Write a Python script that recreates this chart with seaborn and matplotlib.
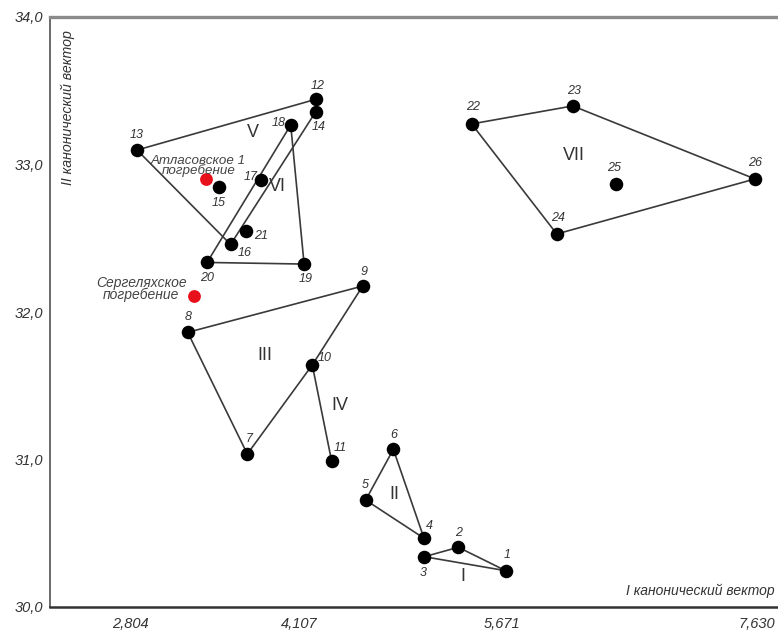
import matplotlib
matplotlib.use("Agg")
import matplotlib.pyplot as plt
import seaborn as sns
import pandas as pd

# Canonical discriminant scores of the samples (I and II canonical vectors)
point_ids = list(range(1, 27))
vec1 = [5.696, 5.331, 5.070, 5.067, 4.618, 4.831, 3.707, 3.248, 4.595, 4.207,
        4.355, 4.234, 2.858, 4.234, 3.489, 3.578, 3.810, 4.041, 4.144, 3.397,
        3.697, 5.434, 6.212, 6.089, 6.543, 7.615]
vec2 = [30.246, 30.405, 30.341, 30.466, 30.725, 31.069, 31.037, 31.862, 32.176, 31.641,
        30.993, 33.442, 33.098, 33.358, 32.847, 32.458, 32.895, 33.268, 32.325, 32.336,
        32.551, 33.275, 33.397, 32.529, 32.868, 32.902]

# Burials shown in red
burial_names = ["Атласовское 1\nпогребение", "Сергеляхское\nпогребение"]
burial_vec1 = [3.389, 3.297]
burial_vec2 = [32.902, 32.108]

# Group outlines, as sequences of point numbers
group_names = ["I", "II", "III", "IV", "V", "VI", "VII"]
group_paths = [
    [3, 2, 1, 3],
    [5, 6, 4, 5],
    [8, 9, 10, 7, 8],
    [10, 11],
    [13, 12, 14, 16, 13],
    [20, 18, 19, 20],
    [22, 23, 26, 24, 22],
]

x_ticks = [2.804, 4.107, 5.671, 7.630]
x_tick_labels = ["2,804", "4,107", "5,671", "7,630"]
y_ticks = [30.0, 31.0, 32.0, 33.0, 34.0]
y_tick_labels = ["30,0", "31,0", "32,0", "33,0", "34,0"]

# Offsets (in points) of the number labels relative to their dots
label_offsets = {
    1: (1, 11), 2: (0, 10), 3: (-1, -12), 4: (4, 9), 5: (0, 11), 6: (0, 10),
    7: (1, 11), 8: (0, 11), 9: (1, 10), 10: (9, 5), 11: (6, 9), 12: (1, 9.5),
    13: (0, 11), 14: (2, -11), 15: (0, -11.5), 16: (10, -6.5), 17: (-7, 2.5),
    18: (-9, 1.5), 19: (1, -11), 20: (0, -11), 21: (11, -3.5), 22: (1, 12),
    23: (1, 11), 24: (1, 11.5), 25: (-1.5, 11.5), 26: (0, 11.5),
}
group_label_pos = {
    "I": (5.365, 30.205), "II": (4.836, 30.766), "III": (3.843, 31.708),
    "IV": (4.421, 31.369), "V": (3.751, 33.214), "VI": (3.936, 32.854),
    "VII": (6.222, 33.064),
}
burial_label_pos = [(3.330, 32.992), (2.889, 32.156)]
burial_label_size = [9.6, 10]
burial_label_spacing = [0.74, 0.85]

sns.set_theme(style="white")
plt.rcParams["font.family"] = ["Liberation Sans", "DejaVu Sans"]

text_col = "#333333"

fig = plt.figure(figsize=(7.78, 6.32), dpi=100)
ax = fig.add_axes([50 / 778, 25 / 632, 728 / 778, 590 / 632])

pts = pd.DataFrame({"id": point_ids, "v1": vec1, "v2": vec2})
coords = {i: (a, b) for i, a, b in zip(point_ids, vec1, vec2)}

# Group outlines
for name, path in zip(group_names, group_paths):
    seg = pd.DataFrame({"v1": [coords[p][0] for p in path],
                        "v2": [coords[p][1] for p in path]})
    sns.lineplot(data=seg, x="v1", y="v2", sort=False, estimator=None,
                 color="#3a3a3a", linewidth=1.2, ax=ax, zorder=2)

# Sample points
sns.scatterplot(data=pts, x="v1", y="v2", s=95, color="black",
                edgecolor="black", linewidth=0, ax=ax, zorder=3)

# Reference burials
burials = pd.DataFrame({"v1": burial_vec1, "v2": burial_vec2})
sns.scatterplot(data=burials, x="v1", y="v2", s=85, color="#e8101a",
                edgecolor="#e8101a", linewidth=0, ax=ax, zorder=3)

for i, a, b in zip(point_ids, vec1, vec2):
    dx, dy = label_offsets[i]
    ax.annotate(str(i), (a, b), xytext=(dx, dy), textcoords="offset points",
                ha="center", va="center", fontsize=9, style="italic",
                color=text_col, zorder=4)

for name in group_names:
    gx, gy = group_label_pos[name]
    ax.text(gx, gy, name, ha="center", va="center", fontsize=13,
            color=text_col, zorder=4)

for name, (bx, by), fs, ls in zip(burial_names, burial_label_pos,
                                  burial_label_size, burial_label_spacing):
    ax.text(bx, by, name, ha="center", va="center", fontsize=fs,
            style="italic", color="#444444", linespacing=ls, zorder=4)

ax.set_xlim(2.188, 7.792)
ax.set_ylim(30.0, 34.0)
ax.set_xticks(x_ticks)
ax.set_xticklabels(x_tick_labels)
ax.set_yticks(y_ticks)
ax.set_yticklabels(y_tick_labels)
ax.tick_params(axis="both", length=0, labelsize=10.5, labelcolor=text_col)
ax.tick_params(axis="x", pad=7)
ax.tick_params(axis="y", pad=5)
for lab in ax.get_xticklabels() + ax.get_yticklabels():
    lab.set_fontstyle("italic")

ax.set_xlabel("")
ax.set_ylabel("")
ax.text(0.995, 0.028, "I канонический вектор", transform=ax.transAxes,
        ha="right", va="center", fontsize=10, style="italic", color=text_col)
ax.text(0.024, 0.978, "II канонический вектор", transform=ax.transAxes,
        ha="center", va="top", rotation=90, fontsize=10.2, style="italic",
        color=text_col)

ax.spines["right"].set_visible(False)
ax.spines["top"].set_color("#8a8a8a")
ax.spines["top"].set_linewidth(2.4)
ax.spines["left"].set_color("#6a6a6a")
ax.spines["left"].set_linewidth(1.4)
ax.spines["bottom"].set_color("#333333")
ax.spines["bottom"].set_linewidth(1.8)
ax.grid(False)

fig.savefig("out.png", dpi=100)
